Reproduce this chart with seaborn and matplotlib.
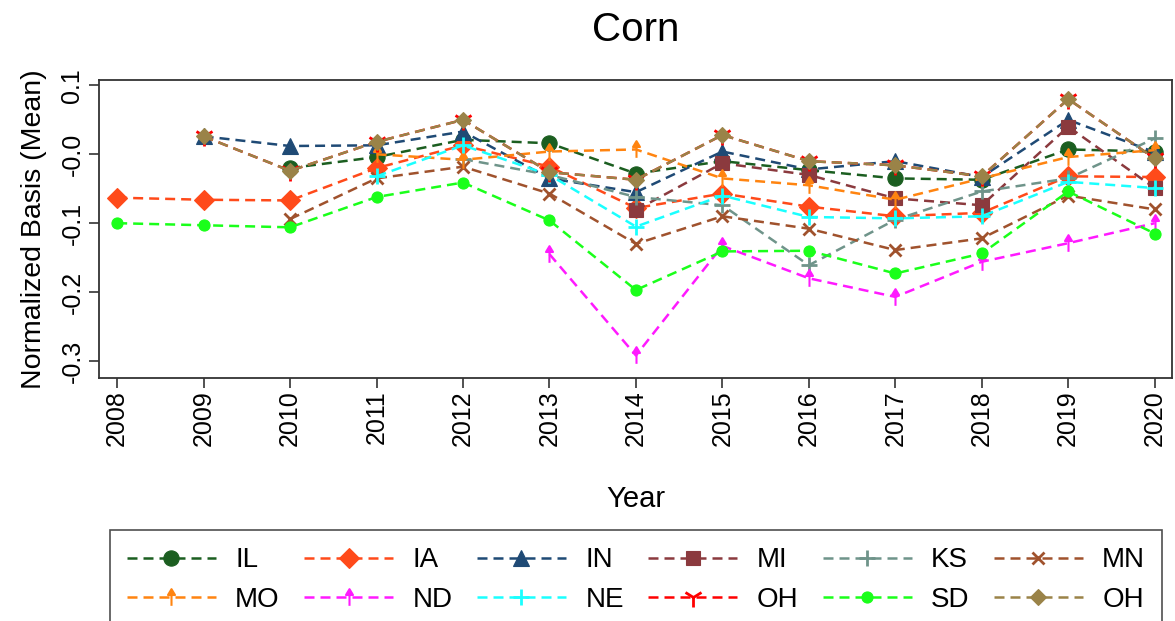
import numpy as np
import pandas as pd
import matplotlib
matplotlib.use("Agg")
import matplotlib.pyplot as plt
from matplotlib.path import Path
import seaborn as sns

years = list(range(2008, 2021))
nan = np.nan

IL = [nan, nan, -0.020, -0.004, 0.021, 0.016, -0.028, -0.010, -0.023, -0.035, -0.037, 0.007, 0.004]
IA = [-0.063, -0.066, -0.067, -0.020, 0.013, -0.018, -0.078, -0.057, -0.076, -0.090, -0.085, -0.032, -0.033]
IN = [nan, 0.026, 0.012, 0.013, 0.033, -0.035, -0.055, 0.004, -0.022, -0.010, -0.033, 0.050, 0.003]
MI = [nan, nan, nan, nan, nan, nan, -0.081, -0.013, -0.030, -0.064, -0.074, 0.040, -0.049]
KS = [nan, nan, nan, nan, -0.007, -0.030, -0.062, -0.074, -0.161, -0.095, -0.054, -0.035, 0.023]
MN = [nan, nan, -0.094, -0.035, -0.018, -0.057, -0.130, -0.090, -0.108, -0.139, -0.122, -0.060, -0.080]
MO = [nan, nan, nan, 0.000, -0.008, 0.004, 0.007, -0.035, -0.045, -0.066, -0.035, -0.004, 0.006]
ND = [nan, nan, nan, nan, nan, -0.145, -0.292, -0.133, -0.180, -0.207, -0.156, -0.129, -0.100]
NE = [nan, nan, nan, -0.032, 0.013, -0.030, -0.105, -0.060, -0.091, -0.093, -0.090, -0.040, -0.049]
OH = [nan, 0.026, -0.024, 0.018, 0.050, -0.026, -0.037, 0.028, -0.010, -0.016, -0.032, 0.080, -0.006]
SD = [-0.100, -0.103, -0.106, -0.062, -0.041, -0.096, -0.197, -0.141, -0.140, -0.173, -0.144, -0.054, -0.115]
OH2 = list(OH)

series_names = ["IL", "IA", "IN", "MI", "KS", "MN", "MO", "ND", "NE", "OH", "SD", "OH"]
series_values = [IL, IA, IN, MI, KS, MN, MO, ND, NE, OH, SD, OH2]

ytick_vals = [0.1, 0.0, -0.1, -0.2, -0.3]
ytick_labels = ["0.1", "-0.0", "-0.1", "-0.2", "-0.3"]

# arrow marker path
arrow = Path([(0, -1), (0, 0.35), (-0.42, 0.3), (0, 1), (0.42, 0.3), (-0.42, 0.3)],
             [Path.MOVETO, Path.LINETO, Path.MOVETO, Path.LINETO, Path.LINETO, Path.CLOSEPOLY])

styles = [
    dict(color="#1b5e20", marker="o", ms=11),
    dict(color="#ff4a1a", marker="D", ms=10),
    dict(color="#1f4a75", marker="^", ms=11),
    dict(color="#8b3a3e", marker="s", ms=10.5),
    dict(color="#6f948a", marker="+", ms=11, mew=2),
    dict(color="#a0522d", marker="x", ms=8, mew=2),
    dict(color="#ff8410", marker=arrow, ms=12, mew=1.5),
    dict(color="#ff1aff", marker=arrow, ms=12, mew=1.5),
    dict(color="#1affff", marker="+", ms=11, mew=2),
    dict(color="#ff0000", marker="1", ms=15, mew=2),
    dict(color="#1aff1a", marker="o", ms=8),
    dict(color="#9a8348", marker="D", ms=8),
]

rows = []
for i, (name, vals) in enumerate(zip(series_names, series_values)):
    for y, v in zip(years, vals):
        if not np.isnan(v):
            rows.append({"Year": y, "Value": v, "series": i})
df = pd.DataFrame(rows)

sns.set_style("white")
plt.rcParams["font.family"] = ["Liberation Sans", "DejaVu Sans"]
plt.rcParams["text.color"] = "black"
plt.rcParams["axes.labelcolor"] = "black"
plt.rcParams["xtick.color"] = "black"
plt.rcParams["ytick.color"] = "black"

fig = plt.figure(figsize=(11.75, 6.21), dpi=100)
ax = fig.add_axes([99 / 1175, 1 - 378 / 621, (1172 - 99) / 1175, (378 - 80) / 621])

handles = []
for i, st in enumerate(styles):
    sub = df[df["series"] == i]
    n_before = len(ax.lines)
    sns.lineplot(data=sub, x="Year", y="Value", ax=ax, color=st["color"],
                 marker=st["marker"], markersize=st["ms"],
                 markeredgewidth=st.get("mew", 0.8),
                 markeredgecolor=st["color"], markerfacecolor=st["color"],
                 linestyle=(0, (4, 2.4)), linewidth=1.8, zorder=2 + i,
                 estimator=None, errorbar=None, legend=False)
    line = ax.lines[n_before]
    line.set_label(series_names[i])
    handles.append(line)

ax.set_xlim(2007.79, 2020.2)
ax.set_ylim(-0.3247, 0.1078)
ax.set_xticks(years)
ax.set_xticklabels([str(y) for y in years], rotation=90, fontsize=18)
ax.set_yticks(ytick_vals)
ax.set_yticklabels(ytick_labels, rotation=90, fontsize=18, va="center")
ax.tick_params(axis="both", direction="out", length=7, width=1.2, color="#333333",
               left=True, bottom=True)
ax.tick_params(axis="x", pad=2)
for sp in ax.spines.values():
    sp.set_color("#333333")
    sp.set_linewidth(1.3)
ax.set_xlabel("Year", fontsize=21, labelpad=28)
ax.set_ylabel("Normalized Basis (Mean)", fontsize=20.5, labelpad=10)
ax.set_title("Corn", fontsize=29, pad=28)

order = [0, 6, 1, 7, 2, 8, 3, 9, 4, 10, 5, 11]
leg = fig.legend([handles[k] for k in order], [series_names[k] for k in order],
                 ncol=6, loc="upper center", bbox_to_anchor=(636 / 1175, 1 - 530 / 621),
                 borderaxespad=0,
                 fontsize=20, frameon=True, fancybox=False, edgecolor="#222222",
                 handlelength=3.2, handletextpad=0.7, columnspacing=0.88,
                 labelspacing=0.5, borderpad=0.62, numpoints=1)
leg.get_frame().set_linewidth(1.2)

fig.savefig("out.png", dpi=100)
